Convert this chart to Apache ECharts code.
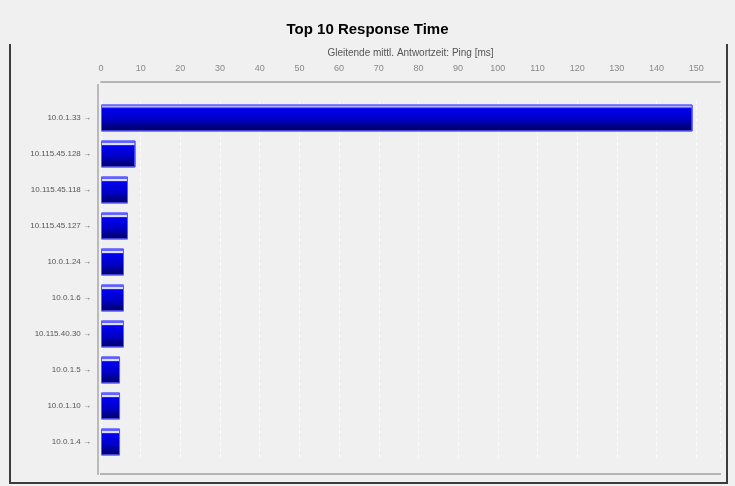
<!DOCTYPE html>
<html>
<head>
<meta charset="utf-8">
<script src="https://cdn.jsdelivr.net/npm/echarts@6/dist/echarts.min.js"></script>
<style>
html,body{margin:0;padding:0;background:#f0f0f0;}
#main{width:735px;height:486px;}
</style>
</head>
<body>
<div id="main"></div>
<script>
// Hosts (top to bottom) and moving average ping in ms
var hosts = ['10.0.1.33 →', '10.115.45.128 →', '10.115.45.118 →', '10.115.45.127 →', '10.0.1.24 →',
             '10.0.1.6 →', '10.115.40.30 →', '10.0.1.5 →', '10.0.1.10 →', '10.0.1.4 →'];
var pingMs = [149.1, 8.7, 6.8, 6.8, 5.8, 5.8, 5.8, 4.8, 4.8, 4.8];
var axisMax = 156;

var myChart = echarts.init(document.getElementById('main'));

// bar look: thin light stripe on top, then blue -> navy
function barGrad(gap){
    if(!gap){
        return new echarts.graphic.LinearGradient(0, 0, 0, 1, [
            {offset: 0, color: '#3a3aff'},
            {offset: 0.04, color: '#a8a8ff'},
            {offset: 0.1, color: '#b8b8ff'},
            {offset: 0.12, color: '#2a2aff'},
            {offset: 0.16, color: '#0000f0'},
            {offset: 0.55, color: '#0000c4'},
            {offset: 1, color: '#00005a'}
        ]);
    }
    return new echarts.graphic.LinearGradient(0, 0, 0, 1, [
        {offset: 0, color: '#3030ff'},
        {offset: 0.05, color: '#8a8aff'},
        {offset: 0.1, color: '#3a3aff'},
        {offset: 0.11, color: '#dcdcf4'},
        {offset: 0.16, color: '#dcdcf4'},
        {offset: 0.17, color: '#3030ff'},
        {offset: 0.22, color: '#0000f0'},
        {offset: 0.6, color: '#0000c4'},
        {offset: 1, color: '#00005a'}
    ]);
}

var barData = pingMs.map(function(v, i){
    return {value: v, itemStyle: {color: barGrad(i > 0)}};
});

var option = {
    backgroundColor: '#f0f0f0',
    textStyle: {fontFamily: 'Liberation Sans, Arial, sans-serif'},
    title: {
        text: 'Top 10 Response Time',
        left: 'center',
        top: 17,
        textStyle: {fontSize: 15, fontWeight: 'bold', color: '#000'}
    },
    grid: {left: 101, right: 15, top: 100, height: 360},
    xAxis: {
        type: 'value',
        position: 'top',
        offset: 18,
        min: 0,
        max: axisMax,
        interval: 10,
        name: 'Gleitende mittl. Antwortzeit: Ping [ms]',
        nameLocation: 'middle',
        nameGap: 24,
        nameTextStyle: {fontSize: 10, color: '#555'},
        axisLine: {show: true, lineStyle: {color: '#a0a0a0', width: 1.5}},
        axisTick: {show: false},
        axisLabel: {fontSize: 9, color: '#888', margin: 9, showMaxLabel: false},
        splitLine: {show: true, lineStyle: {color: '#fafafa', type: 'dashed', width: 1}}
    },
    yAxis: {
        type: 'category',
        inverse: true,
        data: hosts,
        offset: 3,
        axisLine: {show: false},
        axisTick: {show: false},
        axisLabel: {fontSize: 8, color: '#555', margin: 7}
    },
    series: [{
        type: 'bar',
        data: barData,
        barWidth: 27,
        itemStyle: {borderColor: '#5a5aff', borderWidth: 1},
        silent: true
    }],
    graphic: [
        {type: 'polyline', shape: {points: [[10, 44], [10, 483], [727, 483], [727, 44]]},
         style: {stroke: '#3c3c3c', lineWidth: 2, fill: null}},
        {type: 'line', shape: {x1: 98, y1: 84, x2: 98, y2: 475},
         style: {stroke: '#a8a8a8', lineWidth: 1.5}},
        {type: 'line', shape: {x1: 100, y1: 474, x2: 721, y2: 474},
         style: {stroke: '#a0a0a0', lineWidth: 1.5}}
    ]
};

myChart.setOption(option);
</script>
</body>
</html>
